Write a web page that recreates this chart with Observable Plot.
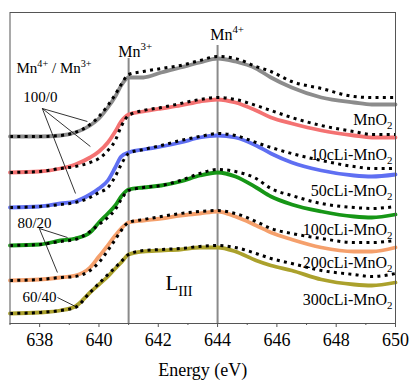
<!DOCTYPE html>
<html>
<head>
<meta charset="utf-8">
<script src="https://cdn.jsdelivr.net/npm/d3@7"></script>
<script src="https://cdn.jsdelivr.net/npm/@observablehq/plot@0.6"></script>
<style>
  html, body { margin: 0; padding: 0; background: white; }
  svg, svg text { font-family: "Liberation Serif", "Times New Roman", serif !important; }
</style>
</head>
<body>
<div id="chart"></div>
<script>
// Energy grid (eV)
const energy = [637, 638, 638.7, 639.2, 639.7, 640.0, 640.3, 640.55, 640.75, 641, 641.5, 642.1, 642.75, 643.4, 644, 644.6, 645.3, 645.8, 646.5, 647.5, 648.6, 649.2, 650];

// Measured spectra (offset, a.u.)
const mno2      = [18.7,18.7,18.8,19.1,19.8,20.5,21.6,22.7,23.8,24.6,24.6,25.1,25.6,26.1,26.5,26.2,25.5,24.6,23.6,22.6,22.1,21.9,21.9];
const li10      = [15.1,15.2,15.5,15.9,16.6,17.2,18.1,19.2,20.2,20.9,21.2,21.5,21.8,22.2,22.4,22.1,21.3,20.6,20.0,19.3,18.8,18.6,18.6];
const li50      = [11.6,11.7,12.0,12.2,12.9,13.5,14.3,15.6,16.7,17.1,17.4,17.7,18.1,18.6,18.8,18.6,17.8,17.0,16.1,15.3,14.8,14.7,14.9];
const li100     = [7.8,7.9,8.3,8.5,9.1,10.1,11.0,11.8,12.7,13.4,13.6,13.8,14.2,14.8,15.1,14.7,13.6,12.7,11.9,11.2,10.7,10.6,10.9];
const li200     = [4.3,4.4,4.6,4.8,5.6,6.7,7.8,8.8,9.5,10.1,10.3,10.5,10.8,11.0,11.2,10.7,9.8,9.1,8.4,7.6,7.2,7.2,7.6];
const li300     = [1.0,1.1,1.3,1.7,3.1,3.9,4.7,5.5,6.1,6.9,7.2,7.3,7.4,7.6,7.6,7.2,6.3,5.8,5.3,4.4,3.9,3.8,4.1];

// Linear-combination fits (dotted)
const mno2Fit   = [18.7,18.7,18.8,19.1,19.9,20.7,21.8,22.9,23.9,24.9,25.2,25.5,25.8,26.3,26.7,26.5,25.7,25.2,24.2,23.5,22.7,22.6,22.6];
const li10Fit   = [15.1,15.2,15.5,15.7,16.1,16.5,17.3,18.3,19.7,20.8,21.3,21.6,22.0,22.4,22.6,22.4,21.8,21.3,20.6,19.8,19.2,18.9,18.9];
const li50Fit   = [11.6,11.7,11.9,12.1,12.6,13.1,13.6,14.7,15.9,17.0,17.4,17.8,18.3,18.7,19.0,18.8,18.1,17.6,17.0,16.3,15.7,15.5,15.5];
const li100Fit  = [7.8,7.9,8.2,8.4,9.2,9.9,10.6,11.4,12.4,13.3,13.6,13.8,14.3,15.0,15.4,15.2,14.5,13.5,12.8,12.0,11.6,11.5,11.7];
const li200Fit  = [4.3,4.4,4.6,4.7,5.3,6.1,7.3,8.4,9.3,10.1,10.4,10.7,11.0,11.2,11.3,11.0,10.2,9.5,9.0,8.5,8.1,8.1,8.3];
const li300Fit  = [1.0,1.1,1.3,1.6,3.1,4.0,4.9,5.6,6.2,6.9,7.3,7.4,7.5,7.7,7.8,7.6,7.0,6.5,6.0,5.3,4.9,4.7,5.0];

const sampleNames  = ["MnO_{2}", "10cLi-MnO_{2}", "50cLi-MnO_{2}", "100cLi-MnO_{2}", "200cLi-MnO_{2}", "300cLi-MnO_{2}"];
const sampleColors = ["#8c8c8c", "#f47272", "#5f6ff2", "#169616", "#f5a06c", "#aba12c"];
const measured = [mno2, li10, li50, li100, li200, li300];
const fits     = [mno2Fit, li10Fit, li50Fit, li100Fit, li200Fit, li300Fit];
const labelY   = [20.4, 16.9, 13.3, 9.4, 6.1, 2.4];

// Reference energies
const refEnergy = [641, 644];
const refTop    = [26.5, 27.8];
const refLabels = ["Mn^{3+}", "Mn^{4+}"];
const refLabelX = [640.65, 643.75];
const refLabelY = [27.2, 28.9];

// Ratio annotations
const ratioTexts = ["Mn^{4+} / Mn^{3+}", "100/0", "80/20", "60/40"];
const ratioX     = [637.22, 637.45, 637.25, 637.42];
const ratioY     = [25.5, 22.6, 10.0, 2.6];
const leaders = [
  {x1: 638.09, y1: 21.5, x2: 639.61, y2: 20.2},
  {x1: 638.09, y1: 21.5, x2: 639.71, y2: 17.7},
  {x1: 638.09, y1: 21.5, x2: 639.21, y2: 13.0},
  {x1: 637.99, y1: 9.5,  x2: 638.94, y2: 8.6},
  {x1: 637.99, y1: 9.5,  x2: 638.60, y2: 5.1},
  {x1: 638.60, y1: 2.6,  x2: 639.21, y2: 1.7}
];

const majorTicks = [638, 640, 642, 644, 646, 648, 650];
const minorTicks = [637, 639, 641, 643, 645, 647, 649];

const solidData = measured.flatMap((arr, i) => arr.map((v, j) => ({e: energy[j], v, s: sampleNames[i]})));
const fitData   = fits.flatMap((arr, i) => arr.map((v, j) => ({e: energy[j], v, s: sampleNames[i]})));

const FONT = "'Liberation Serif', 'Times New Roman', serif";

const plot = Plot.plot({
  width: 410,
  height: 381,
  marginLeft: 9.5,
  marginRight: 15,
  marginTop: 12,
  marginBottom: 58,
  style: {fontFamily: FONT, fontSize: "18px", color: "black", background: "white"},
  x: {domain: [637, 650]},
  y: {domain: [0, 31.1], axis: null},
  color: {domain: sampleNames, range: sampleColors},
  marks: [
    Plot.ruleX(refEnergy.map((e, i) => ({e, top: refTop[i]})), {x: "e", y1: 0, y2: "top", stroke: "#8a8a8a", strokeWidth: 2}),
    Plot.line(solidData, {x: "e", y: "v", z: "s", stroke: "s", strokeWidth: 3.8, curve: "monotone-x"}),
    Plot.line(fitData, {x: "e", y: "v", z: "s", stroke: "black", strokeWidth: 3, strokeDasharray: "3,4.3", strokeLinecap: "butt", curve: "monotone-x"}),
    Plot.link(leaders, {x1: "x1", y1: "y1", x2: "x2", y2: "y2", stroke: "black", strokeWidth: 0.8}),
    Plot.text(sampleNames.map((t, i) => ({t, y: labelY[i]})), {x: 649.9, y: "y", text: "t", textAnchor: "end", fontSize: 16, fill: "black"}),
    Plot.text(refLabels.map((t, i) => ({t, x: refLabelX[i], y: refLabelY[i]})), {x: "x", y: "y", text: "t", textAnchor: "start", fontSize: 16, fill: "black"}),
    Plot.text(ratioTexts.map((t, i) => ({t, x: ratioX[i], y: ratioY[i]})), {x: "x", y: "y", text: "t", textAnchor: "start", fontSize: 15, fill: "black"}),
    Plot.text([{t: "L_{III}", x: 642.24, y: 4.0}], {x: "x", y: "y", text: "t", textAnchor: "start", fontSize: 21, fill: "black"}),
    Plot.frame({stroke: "#555", strokeWidth: 1}),
    Plot.axisX(majorTicks, {tickSize: 4, tickPadding: 6, fontSize: 18, label: "Energy (eV)", labelAnchor: "center", labelArrow: "none", labelOffset: 52, stroke: "#555"}),
    Plot.axisX(minorTicks, {tickSize: 2, text: null, label: null, stroke: "#555"})
  ]
});

// Convert ^{..} / _{..} markup to super/subscript tspans
function richify(svg) {
  svg.querySelectorAll("text").forEach(node => {
    node.setAttribute("font-family", FONT);
    const txt = node.textContent;
    if (!/[\^_]\{/.test(txt)) return;
    const base = parseFloat(getComputedStyle(node).fontSize) || 16;
    const re = /(\^|_)\{([^}]*)\}/g;
    const parts = [];
    let last = 0, m;
    while ((m = re.exec(txt))) {
      if (m.index > last) parts.push({k: "n", t: txt.slice(last, m.index)});
      parts.push({k: m[1] === "^" ? "sup" : "sub", t: m[2]});
      last = re.lastIndex;
    }
    if (last < txt.length) parts.push({k: "n", t: txt.slice(last)});
    while (node.firstChild) node.removeChild(node.firstChild);
    let shift = 0;
    const ns = "http://www.w3.org/2000/svg";
    for (const p of parts) {
      const ts = document.createElementNS(ns, "tspan");
      let target = 0;
      if (p.k === "sup") { target = -base * 0.42; ts.setAttribute("font-size", (base * 0.68).toFixed(1)); }
      else if (p.k === "sub") { target = base * 0.28; ts.setAttribute("font-size", (base * 0.68).toFixed(1)); }
      const dy = target - shift;
      if (dy !== 0) ts.setAttribute("dy", dy.toFixed(2));
      shift = target;
      ts.textContent = p.t;
      node.appendChild(ts);
    }
  });
}

document.getElementById("chart").appendChild(plot);
richify(plot);
</script>
</body>
</html>
